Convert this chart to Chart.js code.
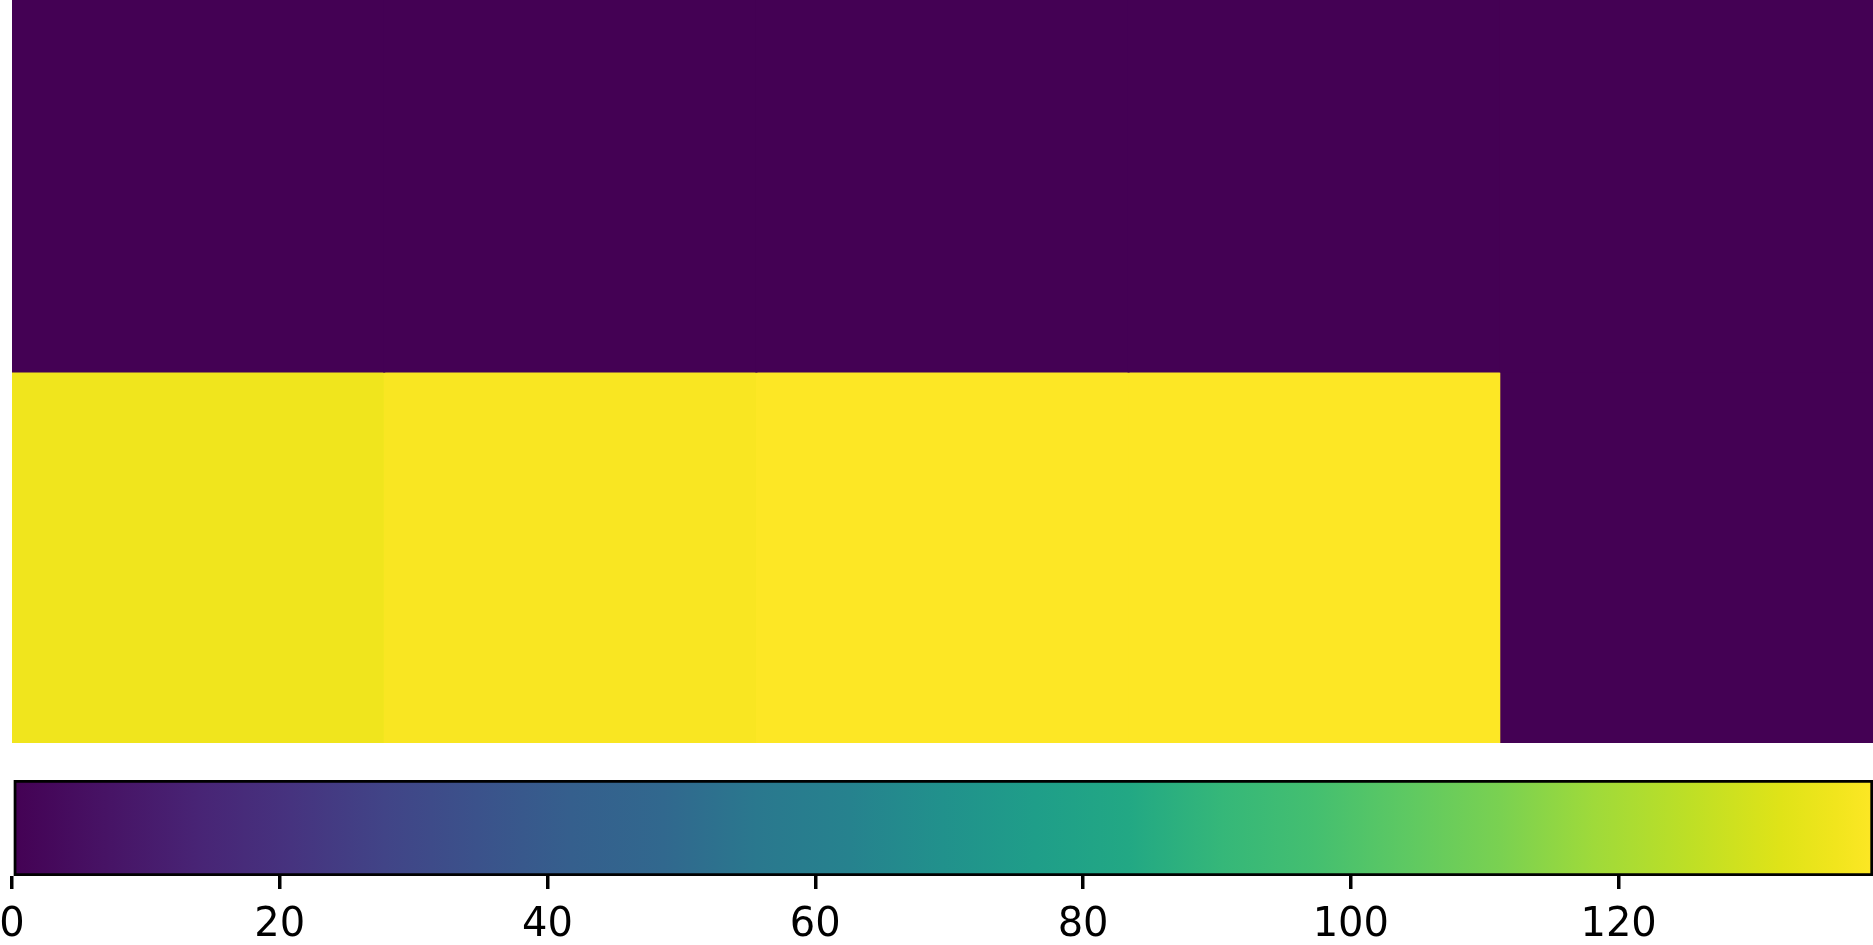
<!DOCTYPE html>
<html>
<head>
<meta charset="utf-8">
<script src="https://cdn.jsdelivr.net/npm/chart.js@4"></script>
<style>
  html, body { margin:0; padding:0; background:#ffffff; width:1873px; height:945px; overflow:hidden; position:relative; }
  #heat { position:absolute; left:0; top:0; }
  #cbar { position:absolute; left:-40px; top:760px; }
</style>
</head>
<body>
<canvas id="heat" width="1873" height="743"></canvas>
<canvas id="cbar" width="1913" height="185"></canvas>
<script>
// ---- data ----
const columns = ['0', '1', '2', '3', '4'];
const rowTop = [0, 0, 0, 0, 0];
const rowBottom = [136, 138, 139, 139, 0];
const colorbarTicks = [0, 20, 40, 60, 80, 100, 120];
const vmin = 0;
const vmax = 139;

// ---- viridis colormap ----
const viridisStops = [
  [0.00, '#440154'], [0.05, '#471365'], [0.10, '#482475'], [0.15, '#46337f'],
  [0.20, '#414487'], [0.25, '#3b528b'], [0.30, '#355f8d'], [0.35, '#31688e'],
  [0.40, '#2a788e'], [0.45, '#26828e'], [0.50, '#21918c'], [0.55, '#1f9e89'],
  [0.60, '#22a884'], [0.65, '#35b779'], [0.70, '#44bf70'], [0.75, '#5ec962'],
  [0.80, '#7ad151'], [0.85, '#9fda3a'], [0.90, '#bddf26'], [0.95, '#dfe318'],
  [0.98, '#f1e51d'], [1.00, '#fde725']
];
function hexToRgb(h) {
  return [parseInt(h.slice(1,3),16), parseInt(h.slice(3,5),16), parseInt(h.slice(5,7),16)];
}
function viridis(t) {
  t = Math.max(0, Math.min(1, t));
  for (let i = 1; i < viridisStops.length; i++) {
    const [t1, c1] = viridisStops[i];
    const [t0, c0] = viridisStops[i-1];
    if (t <= t1) {
      const f = (t - t0) / (t1 - t0);
      const a = hexToRgb(c0), b = hexToRgb(c1);
      const r = a.map((v, k) => Math.round(v + (b[k] - v) * f));
      return `rgb(${r[0]},${r[1]},${r[2]})`;
    }
  }
  return viridisStops[viridisStops.length-1][1];
}
const norm = v => (v - vmin) / (vmax - vmin);

// ---- heatmap ----
new Chart(document.getElementById('heat'), {
  type: 'bar',
  data: {
    labels: columns,
    datasets: [
      {
        data: rowTop.map(() => [0, 1]),
        backgroundColor: rowTop.map(v => viridis(norm(v))),
        grouped: false, barPercentage: 1, categoryPercentage: 1, borderWidth: 0, inflateAmount: 1
      },
      {
        data: rowBottom.map(() => [1, 2]),
        backgroundColor: rowBottom.map(v => viridis(norm(v))),
        grouped: false, barPercentage: 1, categoryPercentage: 1, borderWidth: 0, inflateAmount: 0.5
      }
    ]
  },
  options: {
    responsive: false,
    animation: false,
    layout: { padding: { left: 12, right: 0, top: 0, bottom: 0 } },
    plugins: { legend: { display: false }, tooltip: { enabled: false } },
    scales: {
      x: { type: 'category', display: false, offset: true },
      y: { type: 'linear', display: false, min: 0, max: 2, reverse: true }
    }
  }
});

// ---- colorbar ----
new Chart(document.getElementById('cbar'), {
  type: 'bar',
  data: {
    labels: ['cb'],
    datasets: [{
      data: [[vmin, vmax]],
      backgroundColor: (ctx) => {
        const ca = ctx.chart.chartArea;
        if (!ca) return '#440154';
        const g = ctx.chart.ctx.createLinearGradient(ca.left, 0, ca.right, 0);
        viridisStops.forEach(([t, c]) => g.addColorStop(t, c));
        return g;
      },
      borderColor: '#000000',
      borderWidth: 3,
      borderSkipped: false,
      barPercentage: 1,
      categoryPercentage: 1
    }]
  },
  options: {
    indexAxis: 'y',
    responsive: false,
    animation: false,
    layout: { padding: { left: 52, right: 0, top: 20, bottom: 0 } },
    plugins: { legend: { display: false }, tooltip: { enabled: false } },
    scales: {
      y: { type: 'category', display: false },
      x: {
        type: 'linear', min: vmin, max: vmax, position: 'bottom',
        afterBuildTicks: (axis) => { axis.ticks = colorbarTicks.map(v => ({ value: v })); },
        afterFit: (axis) => { axis.height = 69; },
        border: { display: false },
        grid: { drawOnChartArea: false, drawTicks: true, tickLength: 13, lineWidth: 3.5, tickWidth: 3.5, color: '#000000', tickColor: '#000000' },
        ticks: {
          color: '#000000', padding: 13, maxRotation: 0, autoSkip: false,
          font: { family: 'DejaVu Sans', size: 40 }
        }
      }
    }
  }
});
</script>
</body>
</html>
